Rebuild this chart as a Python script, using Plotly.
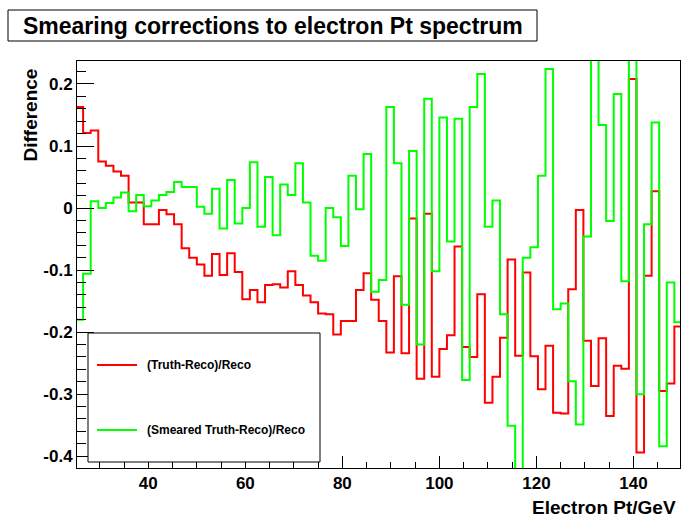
import plotly.graph_objects as go

# ---------------- data ----------------
bin_lo = 25.0
bin_width = 1.5625
n_bins = 80

truth_reco = [
    0.163, 0.121, 0.125, 0.075, 0.068, 0.059, 0.052, 0.009, 0.009, -0.026,
    -0.026, -0.003, -0.010, -0.026, -0.065, -0.080, -0.091, -0.109, -0.074, -0.108,
    -0.073, -0.103, -0.147, -0.132, -0.152, -0.124, -0.123, -0.128, -0.102, -0.124,
    -0.141, -0.152, -0.170, -0.171, -0.204, -0.182, -0.182, -0.132, -0.105, -0.148,
    -0.182, -0.233, -0.110, -0.234, -0.017, -0.275, -0.009, -0.272, -0.227, -0.205,
    -0.062, -0.224, -0.240, -0.139, -0.314, -0.272, -0.209, -0.083, -0.238, -0.104,
    -0.239, -0.292, -0.222, -0.330, -0.331, -0.131, -0.003, -0.214, -0.287, -0.210,
    -0.335, -0.254, -0.259, 0.208, -0.394, -0.109, 0.027, -0.295, -0.283, -0.191,
]

smeared_truth_reco = [
    -0.180, -0.106, 0.011, 0.000, 0.008, 0.017, 0.025, -0.005, 0.021, 0.003,
    0.012, 0.021, 0.026, 0.042, 0.034, 0.034, 0.002, -0.009, 0.031, -0.033,
    0.045, -0.025, 0.000, 0.074, -0.030, 0.050, -0.044, 0.038, 0.021, 0.072,
    0.009, -0.077, -0.085, 0.000, -0.015, -0.061, 0.052, -0.002, 0.087, -0.135,
    -0.116, 0.163, 0.072, -0.156, 0.092, -0.220, 0.176, -0.102, 0.146, -0.054,
    0.144, -0.277, 0.163, 0.216, -0.030, 0.012, -0.171, -0.351, -0.460, -0.080,
    -0.063, 0.052, 0.224, -0.163, -0.154, -0.279, -0.349, -0.046, 0.300, 0.134,
    -0.021, 0.184, -0.118, 0.300, -0.300, -0.026, 0.138, -0.384, -0.120, -0.184,
]

series_names = ["(Truth-Reco)/Reco", "(Smeared Truth-Reco)/Reco"]
series_colors = ["#ff0000", "#00ff00"]

y_tick_vals = [-0.4, -0.3, -0.2, -0.1, 0.0, 0.1, 0.2]
y_tick_text = ["-0.4", "-0.3", "-0.2", "-0.1", "0", "0.1", "0.2"]

title_text = "Smearing corrections to electron Pt spectrum"
x_title = "Electron Pt/GeV"
y_title = "Difference"

# ---------------- figure ----------------
edges = [bin_lo + bin_width * k for k in range(n_bins + 1)]

W, H = 681, 517
L, R, T, B = 77, 1, 61, 49
pw, ph = W - L - R, H - T - B


def px(x):
    return (x - L) / pw


def py(y):
    return (H - B - y) / ph


FONT = "Liberation Sans, Arial, Helvetica, sans-serif"

fig = go.Figure()
for vals, name, col in zip([truth_reco, smeared_truth_reco], series_names, series_colors):
    fig.add_trace(go.Scatter(
        x=edges, y=list(vals) + [vals[-1]], mode="lines", name=name,
        line=dict(color=col, width=2, shape="hv"), showlegend=False,
        hoverinfo="skip",
    ))

fig.update_layout(
    width=W, height=H,
    margin=dict(l=L, r=R, t=T, b=B, pad=0),
    paper_bgcolor="white", plot_bgcolor="white",
    font=dict(family=FONT, size=17, color="black", weight="bold"),
    xaxis=dict(
        range=[25.3, 149.6], showgrid=False, zeroline=False,
        showline=True, linecolor="black", linewidth=1, mirror=True,
        ticks="inside", ticklen=12, tickcolor="black", tickwidth=1,
        tick0=0, dtick=20,
        minor=dict(ticks="inside", ticklen=6, dtick=5, tick0=0, tickcolor="black", showgrid=False),
        tickfont=dict(family=FONT, size=17, weight="bold"),
        ticklabelstandoff=0,
    ),
    yaxis=dict(
        range=[-0.419, 0.237], showgrid=False, zeroline=False,
        showline=True, linecolor="black", linewidth=1, mirror=True,
        ticks="inside", ticklen=17, tickcolor="black", tickwidth=1,
        tickmode="array", tickvals=y_tick_vals, ticktext=y_tick_text,
        minor=dict(ticks="inside", ticklen=9, dtick=0.02, tick0=0, tickcolor="black", showgrid=False),
        tickfont=dict(family=FONT, size=17, weight="bold"),
        ticklabelstandoff=0,
    ),
)

shapes = []
annotations = []

# title box
shapes.append(dict(type="rect", xref="paper", yref="paper",
                   x0=px(8), x1=px(537), y0=py(41), y1=py(10),
                   line=dict(color="black", width=1), fillcolor="white", layer="above"))
annotations.append(dict(text=title_text, xref="paper", yref="paper",
                        x=px(273), y=py(26), xanchor="center", yanchor="middle",
                        showarrow=False, font=dict(family=FONT, size=23, weight="bold")))

# axis titles
annotations.append(dict(text=x_title, xref="paper", yref="paper",
                        x=px(678), y=py(508), xanchor="right", yanchor="middle",
                        showarrow=False, font=dict(family=FONT, size=19, weight="bold")))
annotations.append(dict(text=y_title, xref="paper", yref="paper",
                        x=px(30), y=py(66), xanchor="center", yanchor="top", textangle=-90,
                        showarrow=False, font=dict(family=FONT, size=19, weight="bold")))

# legend box
shapes.append(dict(type="rect", xref="paper", yref="paper",
                   x0=px(88), x1=px(320), y0=py(462), y1=py(333),
                   line=dict(color="black", width=1), fillcolor="white", layer="above"))
for name, col, yy in zip(series_names, series_colors, [365, 430]):
    shapes.append(dict(type="line", xref="paper", yref="paper",
                       x0=px(97), x1=px(137), y0=py(yy), y1=py(yy),
                       line=dict(color=col, width=2), layer="above"))
    annotations.append(dict(text=name, xref="paper", yref="paper",
                            x=px(145), y=py(yy), xanchor="left", yanchor="middle",
                            showarrow=False, font=dict(family=FONT, size=12, weight="bold")))

fig.update_layout(shapes=shapes, annotations=annotations)
fig.write_html("out.html")
